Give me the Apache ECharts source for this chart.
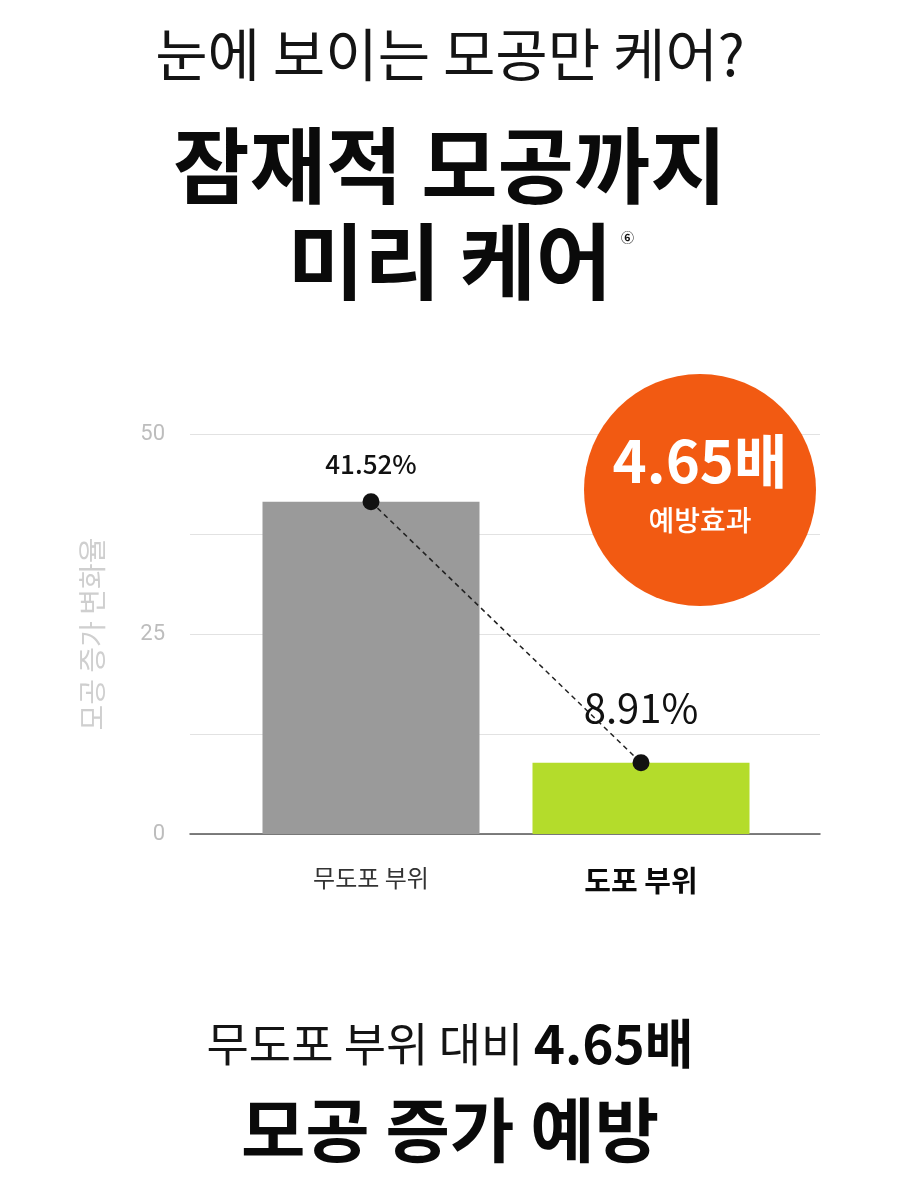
<!DOCTYPE html>
<html>
<head>
<meta charset="utf-8">
<script src="https://cdn.jsdelivr.net/npm/echarts@6/dist/echarts.min.js"></script>
<style>
  html, body { margin: 0; padding: 0; background: #fff; }
  #chart { width: 900px; height: 1200px; }
</style>
</head>
<body>
<div id="chart"></div>
<script>
  // 데이터
  const categories = ['무도포 부위', '도포 부위'];
  const values = [41.52, 8.91];
  const barColors = ['#9a9a9a', '#b4dc2b'];
  const yMax = 50;
  const yStep = 12.5;
  const yLabelStep = 25;
  const ratio = '4.65배';

  const font = '"Noto Sans CJK KR", "Noto Sans", sans-serif';

  const chart = echarts.init(document.getElementById('chart'));

  const option = {
    backgroundColor: '#fff',
    textStyle: { fontFamily: font },
    title: [
      { text: '눈에 보이는 모공만 케어?', left: 'center', top: 21,
        textStyle: { fontFamily: font, fontSize: 57, fontWeight: 'normal', color: '#141414' } },
      { text: '잠재적 모공까지', left: 'center', top: 119,
        textStyle: { fontFamily: font, fontSize: 83, fontWeight: 'bold', color: '#0a0a0a' } },
      { text: '미리 케어', left: 'center', top: 215,
        textStyle: { fontFamily: font, fontSize: 83, fontWeight: 'bold', color: '#0a0a0a' } },
      { text: '⑥', left: 616, top: 226,
        textStyle: { fontFamily: font, fontSize: 13, fontWeight: 'bold', color: '#111' } },
      { text: '{a|무도포 부위 대비 }{b|' + ratio + '}', left: 'center', top: 1012,
        textStyle: { rich: {
          a: { fontFamily: font, fontSize: 46, color: '#141414', fontWeight: 'normal' },
          b: { fontFamily: font, fontSize: 53, color: '#0a0a0a', fontWeight: 'bold' }
        } } },
      { text: '모공 증가 예방', left: 'center', top: 1090,
        textStyle: { fontFamily: font, fontSize: 70, fontWeight: 'bold', color: '#0a0a0a' } }
    ],
    grid: [
      { left: 236, right: 124, top: 434, bottom: 366 },
      { left: 190, right: 80, top: 434, bottom: 366 }
    ],
    xAxis: [
      {
        gridIndex: 0, type: 'category',
        data: categories.map((c, i) => i === 1
          ? { value: c, textStyle: { fontSize: 29, fontWeight: 'bold', color: '#0a0a0a' } }
          : { value: c, textStyle: { fontSize: 24, color: '#333' } }),
        axisLine: { show: false }, axisTick: { show: false },
        axisLabel: { margin: 32, fontFamily: font }
      },
      {
        gridIndex: 1, type: 'value', min: 0, max: 1,
        axisLine: { show: true, lineStyle: { color: '#555', width: 1.5 } },
        axisTick: { show: false }, axisLabel: { show: false }, splitLine: { show: false }
      }
    ],
    yAxis: [
      {
        gridIndex: 0, type: 'value', min: 0, max: yMax, interval: yStep,
        show: false, splitLine: { show: false }
      },
      {
        gridIndex: 1, type: 'value', min: 0, max: yMax, interval: yStep,
        name: '모공 증가 변화율', nameLocation: 'middle', nameGap: 84,
        nameTextStyle: { fontFamily: font, fontSize: 28, color: '#cfcfcf' },
        axisLine: { show: false }, axisTick: { show: false },
        axisLabel: {
          margin: 25, fontSize: 22, color: '#bdbdbd', fontFamily: 'Roboto, sans-serif',
          formatter: v => (v % yLabelStep === 0 ? String(v) : '')
        },
        splitLine: { lineStyle: { color: '#e2e2e2', width: 1 } }
      }
    ],
    series: [
      {
        type: 'bar', xAxisIndex: 0, yAxisIndex: 0, barWidth: 217,
        data: values.map((v, i) => ({ value: v, itemStyle: { color: barColors[i] } })),
        z: 2
      },
      {
        type: 'line', xAxisIndex: 0, yAxisIndex: 0,
        symbol: 'circle', symbolSize: 17,
        itemStyle: { color: '#111' },
        lineStyle: { color: '#222', width: 1.5, type: [5, 4] },
        data: values.map((v, i) => ({
          value: v,
          label: {
            show: true, position: 'top',
            distance: i === 0 ? 16 : 26,
            formatter: v.toFixed(2) + '%',
            fontFamily: font, color: '#111',
            fontSize: i === 0 ? 26 : 40,
            fontWeight: i === 0 ? 500 : 'normal'
          }
        })),
        z: 5
      }
    ],
    graphic: [
      { type: 'circle', z: 100, shape: { cx: 700, cy: 490, r: 116 }, style: { fill: '#f25a12' } },
      { type: 'text', z: 101, x: 700, y: 461, style: {
          text: ratio, fill: '#fff', font: 'bold 58px ' + font,
          textAlign: 'center', textVerticalAlign: 'middle' } },
      { type: 'text', z: 101, x: 700, y: 520, style: {
          text: '예방효과', fill: '#fff', font: '500 28px ' + font,
          textAlign: 'center', textVerticalAlign: 'middle' } }
    ]
  };

  chart.setOption(option);
</script>
</body>
</html>
